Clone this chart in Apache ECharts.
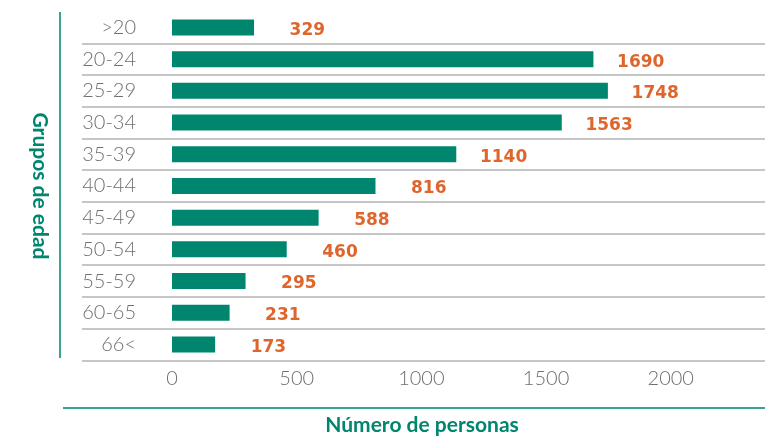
<!DOCTYPE html>
<html>
<head>
<meta charset="utf-8">
<script src="https://cdn.jsdelivr.net/npm/echarts@6/dist/echarts.min.js"></script>
<style>
  html, body { margin: 0; padding: 0; background: #fff; }
  #chart { width: 765px; height: 438px; }
</style>
</head>
<body>
<div id="chart"></div>
<script>
// grupos de edad, de arriba hacia abajo
const ageGroups = ['>20', '20-24', '25-29', '30-34', '35-39', '40-44', '45-49', '50-54', '55-59', '60-65', '66<']
const personas = [329, 1690, 1748, 1563, 1140, 816, 588, 460, 295, 231, 173]
const xTicks = [0, 500, 1000, 1500, 2000]

const teal = '#00866f'
const orange = '#de662c'
const grey = '#6f6f6f'

const chart = echarts.init(document.getElementById('chart'))

const option = {
  animation: false,
  grid: [
    // solo para las lineas separadoras
    { left: 82, right: 0, top: 11.6, height: 348.7 },
    // barras
    { left: 172, right: 0, top: 11.6, height: 348.7 }
  ],
  xAxis: [
    { gridIndex: 0, type: 'value', show: false, min: 0, max: 1 },
    {
      gridIndex: 1,
      type: 'value',
      min: 0,
      max: 2366,
      interval: 500,
      axisLine: { show: false },
      axisTick: { show: false },
      splitLine: { show: false },
      axisLabel: {
        margin: 8,
        color: grey,
        fontFamily: 'Lato',
        fontWeight: 300,
        fontSize: 20,
        formatter: v => (xTicks.indexOf(v) >= 0 ? String(v) : '')
      }
    }
  ],
  yAxis: [
    {
      gridIndex: 0,
      type: 'category',
      inverse: true,
      data: ageGroups,
      axisLine: { show: false },
      axisTick: { show: false },
      axisLabel: { show: false },
      splitLine: {
        show: true,
        interval: (i) => i > 0,
        lineStyle: { color: '#c6c6c6', width: 2 }
      }
    },
    {
      gridIndex: 1,
      type: 'category',
      inverse: true,
      data: ageGroups,
      axisLine: { show: false },
      axisTick: { show: false },
      splitLine: { show: false },
      axisLabel: {
        margin: 36,
        padding: [5, 0, 0, 0],
        color: grey,
        fontFamily: 'Lato',
        fontWeight: 300,
        fontSize: 20
      }
    }
  ],
  series: [
    {
      type: 'bar',
      xAxisIndex: 1,
      yAxisIndex: 1,
      data: personas,
      barWidth: 16,
      itemStyle: { color: teal },
      label: {
        show: true,
        position: 'right',
        distance: 71,
        align: 'right',
        offset: [0, 3],
        color: orange,
        fontFamily: 'DejaVu Sans',
        fontWeight: 'bold',
        fontSize: 17
      }
    }
  ],
  graphic: [
    {
      type: 'line',
      shape: { x1: 60, y1: 12, x2: 60, y2: 358 },
      style: { stroke: '#3aa58f', lineWidth: 2 }
    },
    {
      type: 'line',
      shape: { x1: 63, y1: 408, x2: 765, y2: 408 },
      style: { stroke: '#3aa58f', lineWidth: 2 }
    },
    {
      type: 'text',
      x: 422,
      y: 425,
      style: {
        text: 'Número de personas',
        fill: teal,
        font: 'bold 21px Lato',
        align: 'center',
        verticalAlign: 'middle'
      }
    },
    {
      type: 'text',
      x: 40,
      y: 186,
      rotation: -Math.PI / 2,
      style: {
        text: 'Grupos de edad',
        fill: teal,
        font: 'bold 21px Lato',
        align: 'center',
        verticalAlign: 'middle'
      }
    }
  ]
}

chart.setOption(option)
</script>
</body>
</html>
